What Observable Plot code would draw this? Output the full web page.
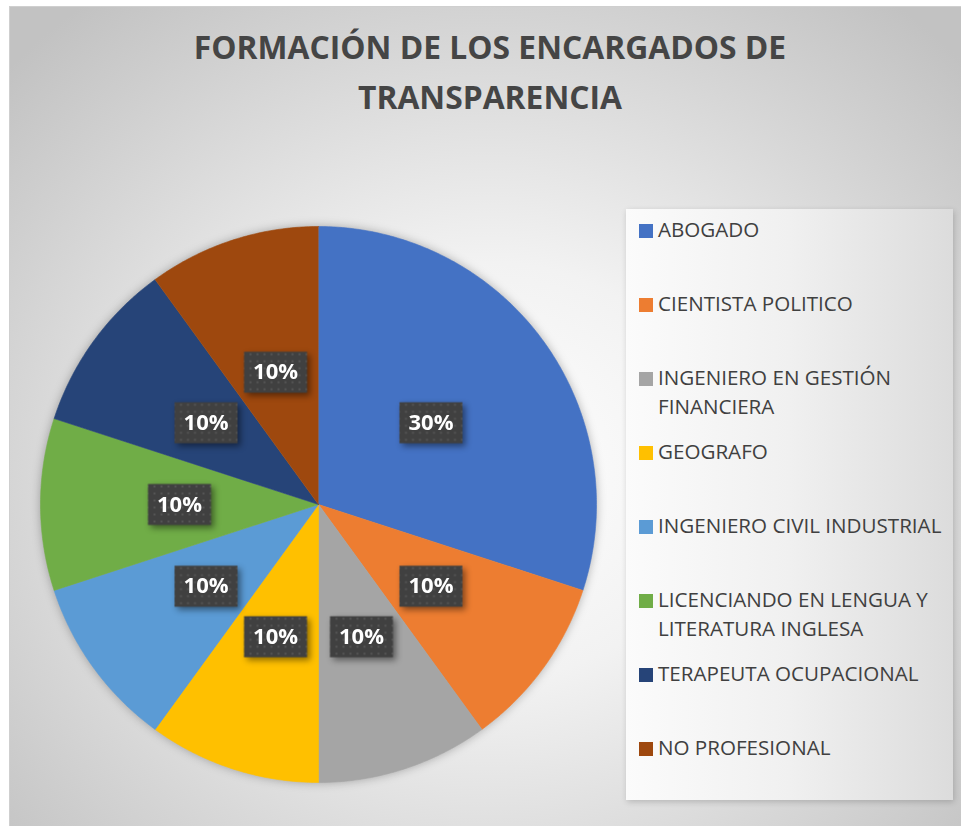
<!DOCTYPE html>
<html>
<head>
<meta charset="utf-8">
<script src="https://cdn.jsdelivr.net/npm/d3@7"></script>
<script src="https://cdn.jsdelivr.net/npm/@observablehq/plot@0.6"></script>
<style>
  html, body { margin: 0; padding: 0; background: #ffffff; }
  body { width: 961px; height: 826px; position: relative; overflow: hidden; font-family: "Open Sans", sans-serif; }
  #frame {
    position: absolute; left: 9px; top: 6px; width: 960px; height: 830px;
    box-sizing: border-box;
    border-left: 1px solid #cfcfcf; border-top: 1px solid #cfcfcf;
    background: radial-gradient(ellipse 68% 72% at 50% 56%, #ffffff 0%, #f2f2f2 35%, #d8d8d8 70%, #c2c2c2 100%);
  }
  #title {
    position: absolute; left: 0; top: 22px; width: 980px; text-align: center;
    font-family: "Open Sans", sans-serif; font-weight: 700; font-size: 31.8px; line-height: 50px;
    color: #454545;
  }
  #legend {
    position: absolute; left: 626px; top: 209px; width: 327px; height: 591px;
    background: linear-gradient(to right, #fbfbfb 0%, #f0f0f0 50%, #dcdcdc 100%);
    box-shadow: 1px 2px 6px rgba(0,0,0,0.18);
  }
  .item { position: absolute; left: 0; }
  .swatch { position: absolute; left: 13px; width: 14px; height: 14px; }
  .label {
    position: absolute; left: 32px; width: 294px;
    font-family: "Open Sans", sans-serif; font-size: 20.6px; line-height: 29px; color: #404040;
  }
  #pie { position: absolute; left: 18px; top: 204px; }
</style>
</head>
<body>
<div id="frame"></div>
<div id="title">FORMACIÓN DE LOS ENCARGADOS DE<br>TRANSPARENCIA</div>
<div id="pie"></div>
<div id="legend"></div>
<script>
const categories = [
  "ABOGADO",
  "CIENTISTA POLITICO",
  "INGENIERO EN GESTIÓN FINANCIERA",
  "GEOGRAFO",
  "INGENIERO CIVIL INDUSTRIAL",
  "LICENCIANDO EN LENGUA Y LITERATURA INGLESA",
  "TERAPEUTA OCUPACIONAL",
  "NO PROFESIONAL"
];
const values = [3, 1, 1, 1, 1, 1, 1, 1];
const colors = ["#4472C4", "#ED7D31", "#A5A5A5", "#FFC000", "#5B9BD5", "#70AD47", "#264478", "#9E480E"];

const rows = categories.map((name, i) => ({name, value: values[i]}));
const total = d3.sum(values);
const arcs = d3.pie().sort(null).value(d => d.value)(rows);

// slice outlines in unit (x, y) space; angle 0 = 12 o'clock, clockwise
const slicePts = [];
arcs.forEach(a => {
  const n = Math.max(8, Math.ceil((a.endAngle - a.startAngle) / (Math.PI / 360)));
  slicePts.push({name: a.data.name, x: 0, y: 0});
  for (let k = 0; k <= n; k++) {
    const t = a.startAngle + (a.endAngle - a.startAngle) * k / n;
    slicePts.push({name: a.data.name, x: Math.sin(t), y: Math.cos(t)});
  }
});

const fmt = d3.format(".0%");
const labels = arcs.map(a => {
  const m = (a.startAngle + a.endAngle) / 2;
  return {name: a.data.name, x: 0.5 * Math.sin(m), y: 0.5 * Math.cos(m), text: fmt(a.data.value / total)};
});

const boxSymbol = {draw(context) { context.rect(-31.5, -20.5, 63, 41); }};

const plot = Plot.plot({
  width: 600,
  height: 600,
  margin: 22,
  x: {domain: [-1, 1], axis: null},
  y: {domain: [-1, 1], axis: null},
  color: {domain: categories, range: colors},
  style: {background: "transparent", overflow: "visible"},
  marks: [
    Plot.line(slicePts, {x: "x", y: "y", z: "name", fill: "name", stroke: "name", strokeWidth: 0.6, curve: "linear"}),
    Plot.dot(labels, {x: "x", y: "y", r: 10, symbol: boxSymbol, fill: "url(#lblpat)"}),
    Plot.text(labels, {x: "x", y: "y", text: "text", fill: "white", fontSize: 22, fontWeight: "bold", fontFamily: "Open Sans"})
  ]
});

// pattern for the label boxes
const ns = "http://www.w3.org/2000/svg";
const defs = document.createElementNS(ns, "defs");
defs.innerHTML = '<pattern id="lblpat" width="7" height="7" patternUnits="userSpaceOnUse">' +
  '<rect width="7" height="7" fill="#404040"/><rect x="2" y="2" width="2" height="2" fill="#555555"/></pattern>';
plot.insertBefore(defs, plot.firstChild);

const gLine = plot.querySelector('g[aria-label="line"]');
if (gLine) gLine.style.filter = "drop-shadow(0px 0px 5px rgba(0,0,0,0.28))";
const gDot = plot.querySelector('g[aria-label="dot"]');
if (gDot) gDot.style.filter = "drop-shadow(3px 3px 3px rgba(0,0,0,0.45))";

document.getElementById("pie").appendChild(plot);

// legend
const legend = document.getElementById("legend");
categories.forEach((c, i) => {
  const item = document.createElement("div");
  item.className = "item";
  item.style.top = (74 * i) + "px";
  const sw = document.createElement("div");
  sw.className = "swatch";
  sw.style.background = colors[i];
  sw.style.top = "15px";
  const lb = document.createElement("div");
  lb.className = "label";
  lb.style.top = "6px";
  lb.textContent = c;
  item.appendChild(sw);
  item.appendChild(lb);
  legend.appendChild(item);
});
</script>
</body>
</html>
